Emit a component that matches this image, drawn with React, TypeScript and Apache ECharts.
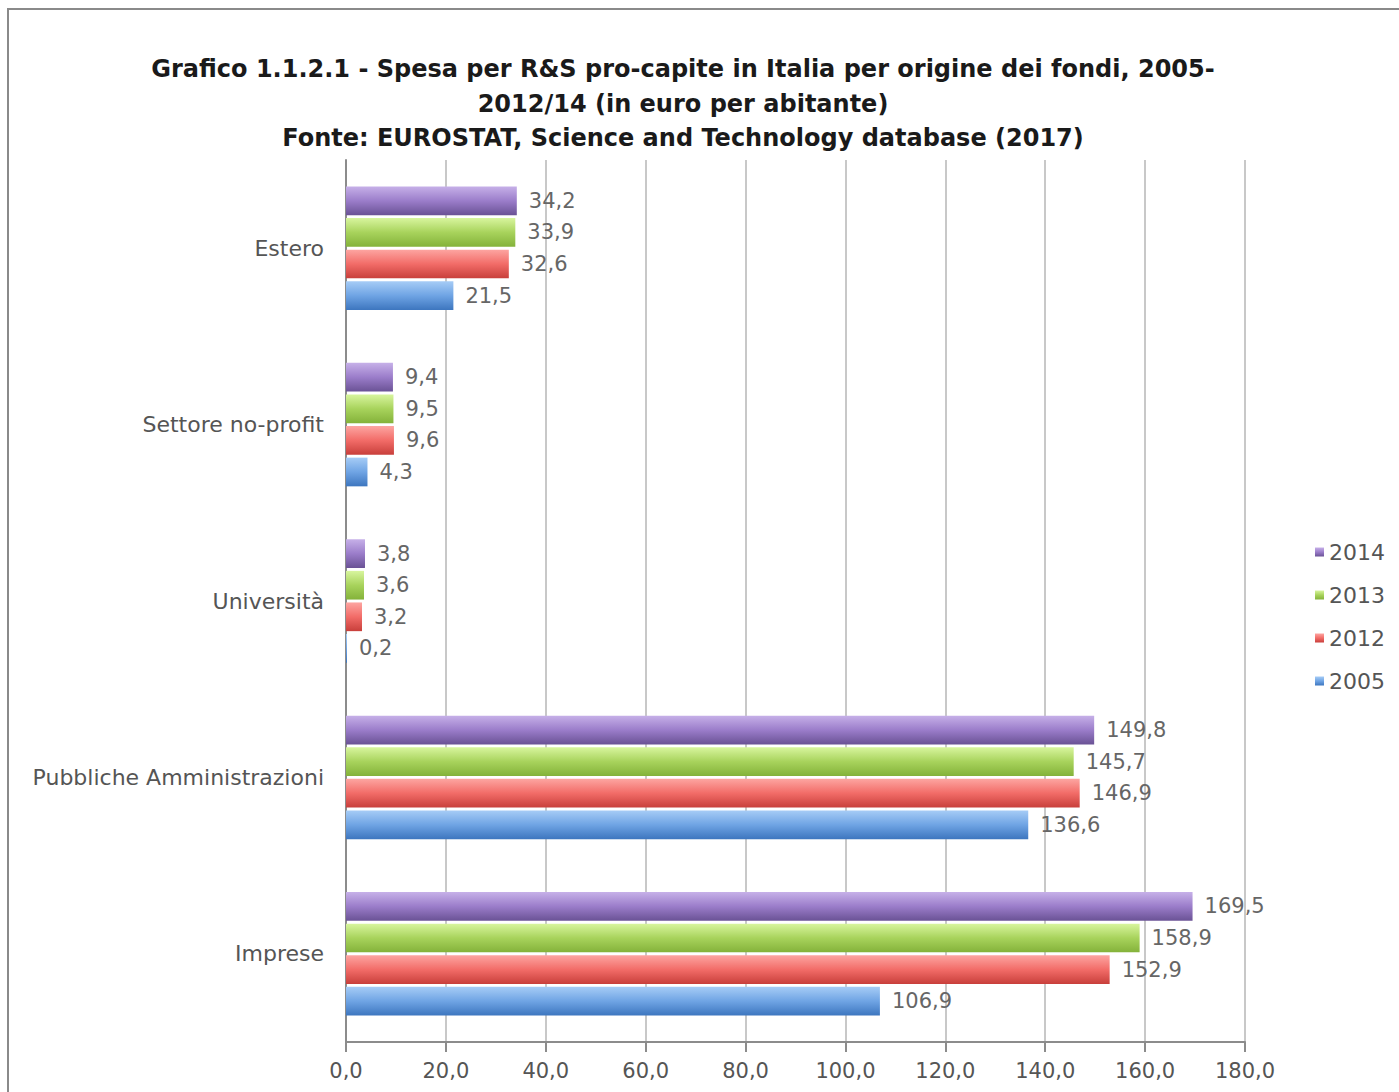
import React, { useEffect, useRef } from "react";
import * as echarts from "echarts";

const categories = ["Imprese", "Pubbliche Amministrazioni", "Università", "Settore no-profit", "Estero"];
const seriesNames = ["2014", "2013", "2012", "2005"];
const values2014 = [169.5, 149.8, 3.8, 9.4, 34.2];
const values2013 = [158.9, 145.7, 3.6, 9.5, 33.9];
const values2012 = [152.9, 146.9, 3.2, 9.6, 32.6];
const values2005 = [106.9, 136.6, 0.2, 4.3, 21.5];
const legendOrder = ["2014", "2013", "2012", "2005"];
const titleLines = [
  "Grafico 1.1.2.1 - Spesa per R&S pro-capite in Italia per origine dei fondi, 2005-",
  "2012/14 (in euro per abitante)",
  "Fonte: EUROSTAT, Science and Technology database (2017)",
];

const palettes: Record<string, [string, string, string]> = {
  "2005": ["#a6ccf6", "#6fa4e4", "#3d76bf"],
  "2012": ["#fda5a1", "#f26c68", "#c83f3b"],
  "2013": ["#d8f59e", "#a8d35c", "#84b23a"],
  "2014": ["#c6b0e8", "#9b7dca", "#6a5295"],
};

const fmt = (v: number) => v.toFixed(1).replace(".", ",");

export default function App() {
  const ref = useRef<HTMLDivElement>(null);
  useEffect(() => {
    if (!ref.current) return;
    const chart = echarts.init(ref.current, undefined, { renderer: "svg" });
    const allValues = [values2014, values2013, values2012, values2005];
    const font = "DejaVu Sans";
    chart.setOption({
      animation: false,
      backgroundColor: "#ffffff",
      title: {
        text: titleLines.join("\n"),
        left: 678,
        textAlign: "center",
        top: 47,
        textStyle: {
          fontFamily: font,
          fontWeight: "bold",
          fontSize: 24,
          lineHeight: 34.5,
          color: "#1a1a1a",
        },
      },
      graphic: [
        {
          type: "rect",
          shape: { x: 8, y: 9, width: 1400, height: 1100 },
          style: { fill: "none", stroke: "#8a8a8a", lineWidth: 2 },
          silent: true,
        },
      ],
      legend: {
        data: legendOrder,
        orient: "vertical",
        left: 1310,
        top: 536,
        itemWidth: 9,
        itemHeight: 9,
        itemGap: 21,
        icon: "rect",
        textStyle: { fontFamily: font, fontSize: 22, color: "#555555" },
      },
      grid: { left: 346, right: 154, top: 160, bottom: 50, containLabel: false },
      xAxis: {
        type: "value",
        min: 0,
        max: 180,
        interval: 20,
        axisLine: { show: true, lineStyle: { color: "#8c8c8c", width: 2 } },
        axisTick: { show: true, length: 10, lineStyle: { color: "#8c8c8c", width: 2 } },
        splitLine: { show: true, lineStyle: { color: "#c8c8c8", width: 2 } },
        axisLabel: {
          formatter: (v: number) => fmt(v),
          fontFamily: font,
          fontSize: 21,
          color: "#555555",
          margin: 18,
        },
      },
      yAxis: {
        type: "category",
        data: categories,
        axisLine: { show: true, lineStyle: { color: "#8c8c8c", width: 2 } },
        axisTick: { show: false },
        axisLabel: {
          fontFamily: font,
          fontSize: 22,
          color: "#555555",
          margin: 22,
        },
      },
      series: seriesNames.map((name, i) => ({
        name,
        type: "bar",
        data: allValues[i],
        barCategoryGap: "30%",
        barGap: "10%",
        itemStyle: {
          color: new echarts.graphic.LinearGradient(0, 0, 0, 1, [
            { offset: 0, color: palettes[name][0] },
            { offset: 0.5, color: palettes[name][1] },
            { offset: 1, color: palettes[name][2] },
          ]),
        },
        label: {
          show: true,
          position: "right",
          distance: 12,
          formatter: (p: any) => fmt(p.value),
          fontFamily: font,
          fontSize: 21,
          color: "#666666",
        },
      })),
    });
    return () => chart.dispose();
  }, []);
  return (
    <div
      ref={ref}
      style={{ position: "fixed", left: 0, top: 0, width: 1399, height: 1092 }}
    />
  );
}
